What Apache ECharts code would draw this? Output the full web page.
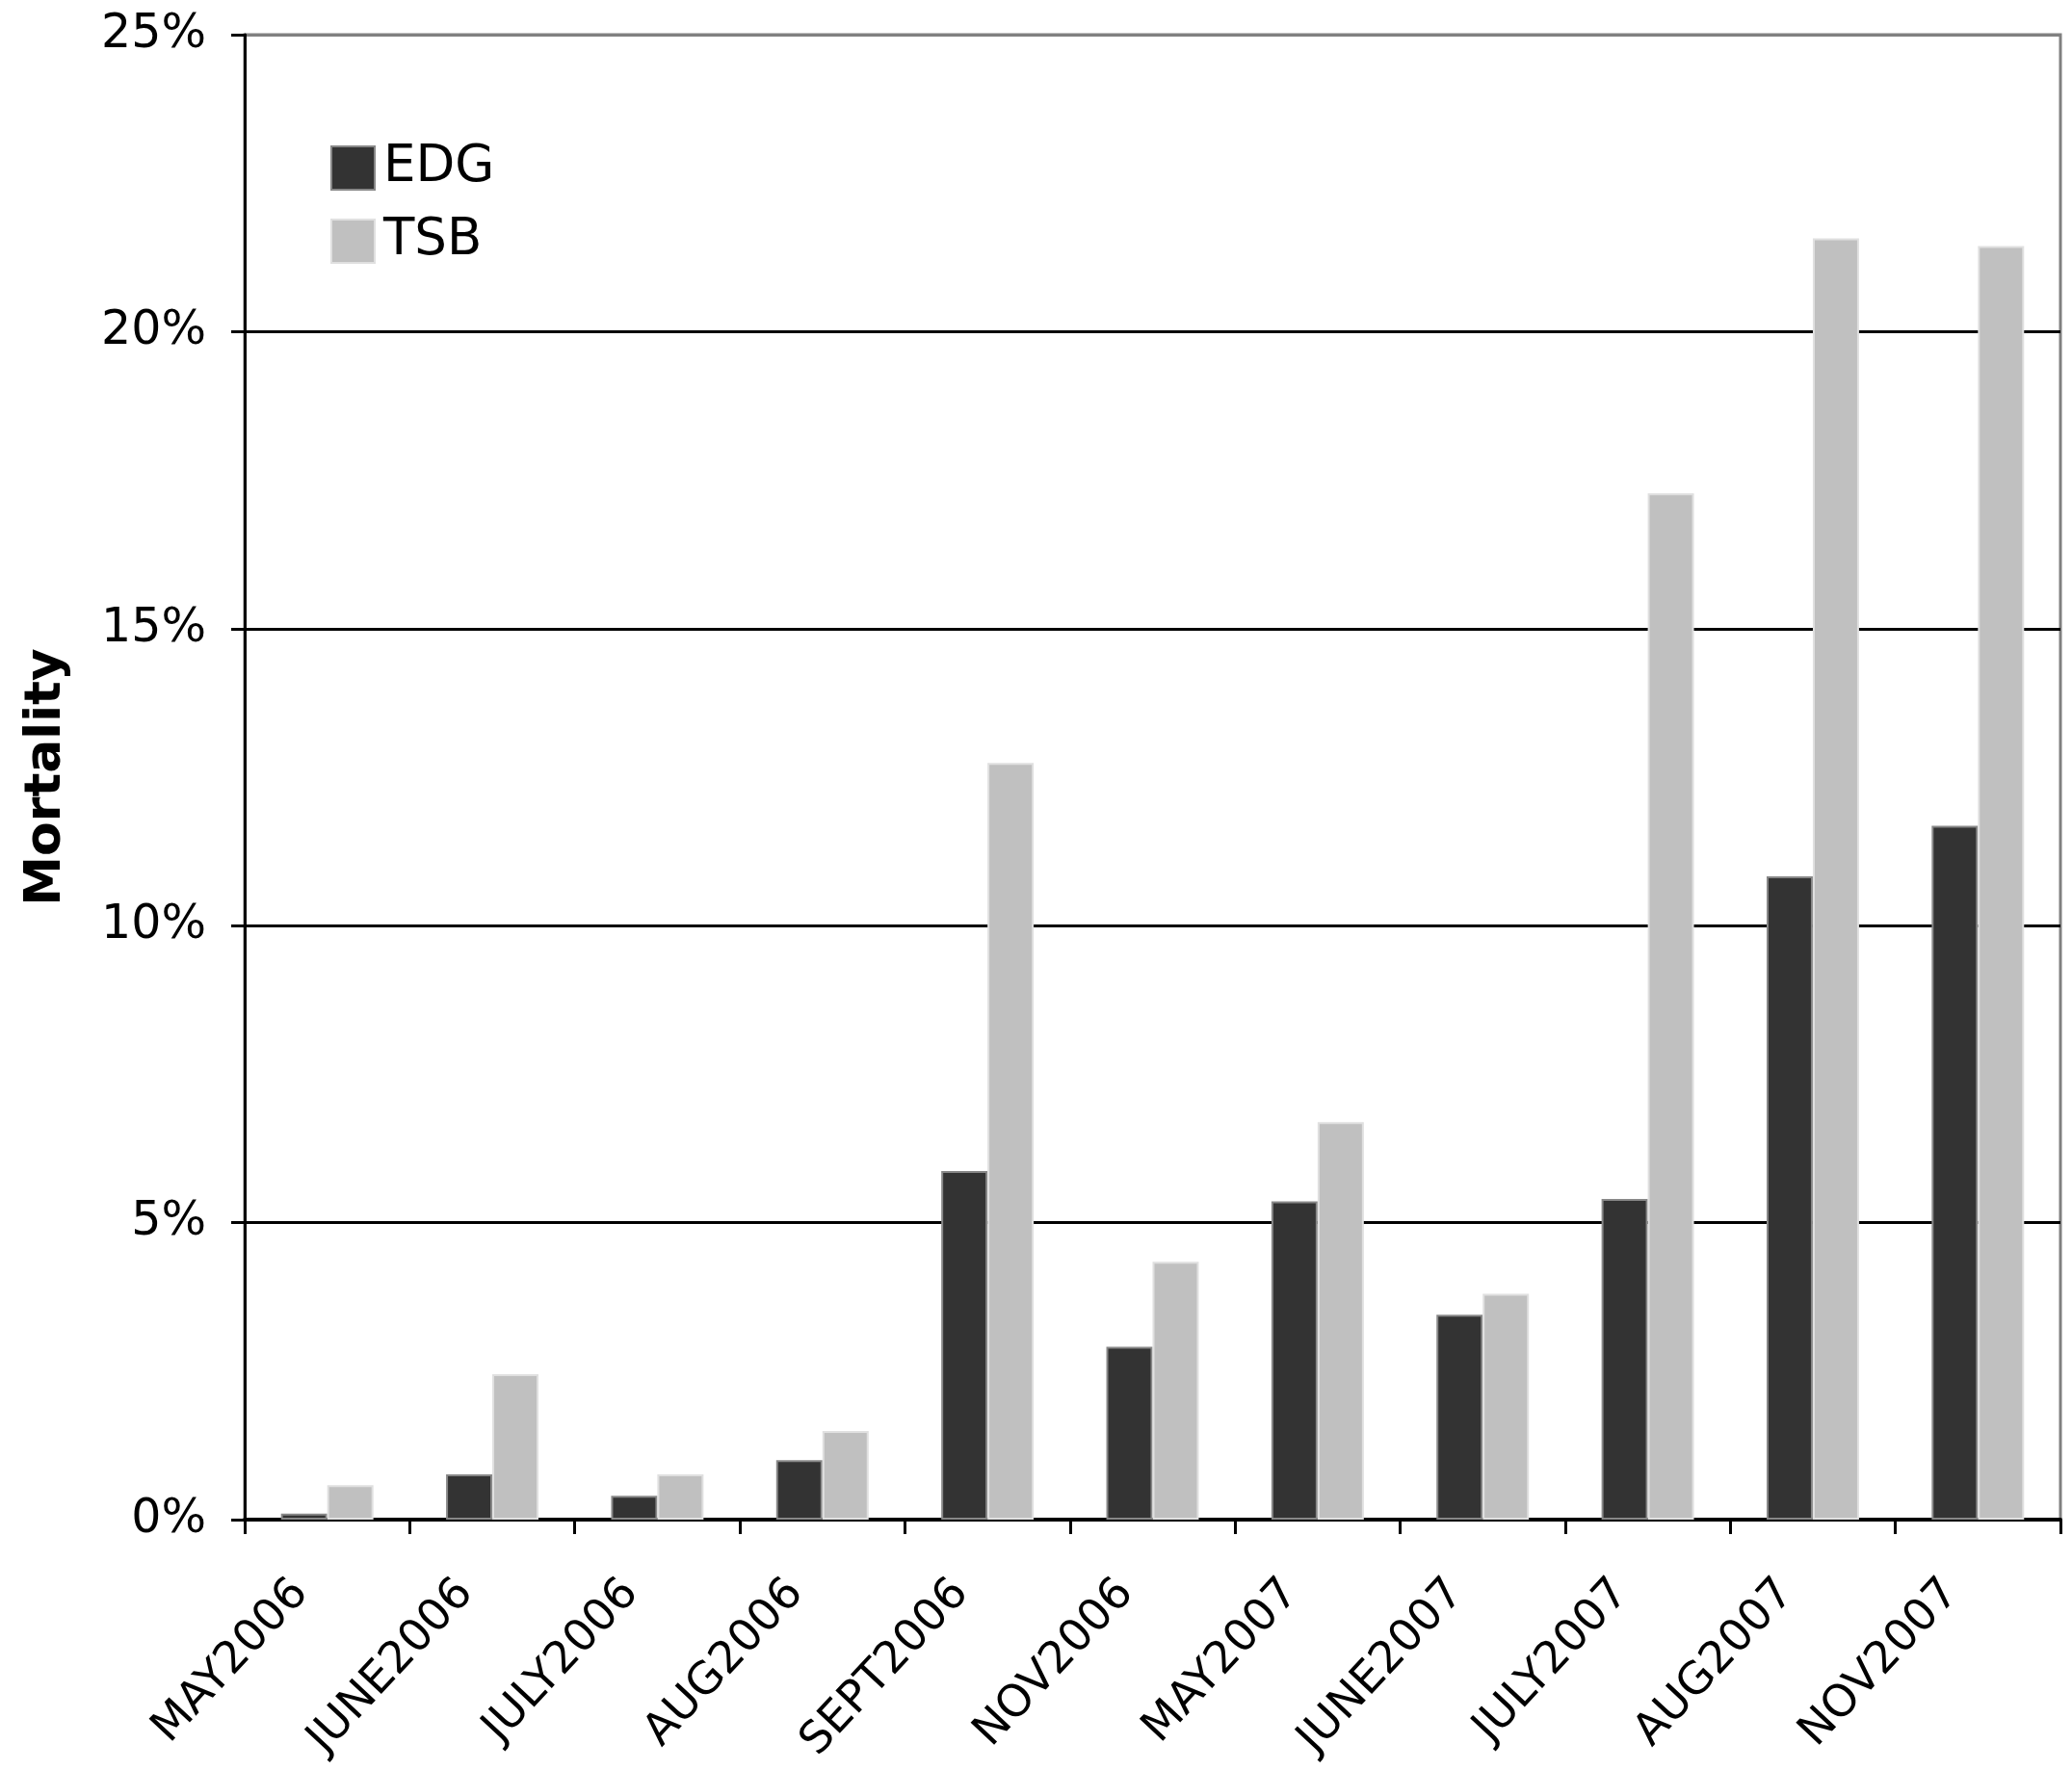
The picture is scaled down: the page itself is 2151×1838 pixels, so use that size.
<!DOCTYPE html>
<html>
<head>
<meta charset="utf-8">
<script src="https://cdn.jsdelivr.net/npm/echarts@6/dist/echarts.min.js"></script>
<style>
html,body{margin:0;padding:0;background:#fff;}
#chart{width:2151px;height:1838px;}
</style>
</head>
<body>
<div id="chart"></div>
<script>
const categories = ['MAY2006','JUNE2006','JULY2006','AUG2006','SEPT2006','NOV2006','MAY2007','JUNE2007','JULY2007','AUG2007','NOV2007'];
const edgValues = [0.1, 0.76, 0.4, 1.0, 5.87, 2.91, 5.36, 3.45, 5.40, 10.83, 11.68];
const tsbValues = [0.58, 2.45, 0.76, 1.49, 12.74, 4.34, 6.69, 3.80, 17.28, 21.57, 21.44];
const yTicks = [0, 5, 10, 15, 20, 25];

const font = 'DejaVu Sans';
const chart = echarts.init(document.getElementById('chart'), null, {renderer:'canvas'});
chart.setOption({
  animation: false,
  backgroundColor: '#ffffff',
  grid: {left: 254, right: 12, top: 36, bottom: 260, show: true, borderColor: '#808080', borderWidth: 3, backgroundColor: 'transparent'},
  legend: {
    orient: 'vertical', left: 338, top: 143, itemWidth: 45, itemHeight: 45, itemGap: 23,
    icon: 'rect',
    textStyle: {fontFamily: font, fontSize: 53, color: '#000', padding: [0,0,0,4]},
    data: ['EDG','TSB']
  },
  xAxis: {
    type: 'category', data: categories,
    axisLine: {lineStyle: {color: '#000', width: 4}},
    axisTick: {show: true, length: 15, lineStyle: {color: '#000', width: 3}},
    axisLabel: {rotate: 47, margin: 40, padding: [0, 40, 0, 0], fontFamily: font, fontSize: 46, color: '#000', interval: 0}
  },
  yAxis: {
    type: 'value', min: 0, max: 25, interval: 5,
    name: 'Mortality', nameLocation: 'middle', nameRotate: 90, nameGap: 180,
    nameTextStyle: {fontFamily: font, fontSize: 52, fontWeight: 'bold', color: '#000'},
    axisLine: {show: true, lineStyle: {color: '#000', width: 3}},
    axisTick: {show: true, length: 14, lineStyle: {color: '#000', width: 3}},
    axisLabel: {margin: 40, fontFamily: font, fontSize: 49, color: '#000',
      formatter: v => yTicks.indexOf(v) >= 0 ? v + '%' : ''},
    splitLine: {show: true, lineStyle: {color: ['#000','#000','#000','#000','#000','#808080'], width: 3}}
  },
  series: [
    {name: 'EDG', type: 'bar', data: edgValues, barGap: '0%', barCategoryGap: '44%',
     itemStyle: {color: '#333333', borderColor: '#888888', borderWidth: 2}},
    {name: 'TSB', type: 'bar', data: tsbValues, barGap: '0%', barCategoryGap: '44%',
     itemStyle: {color: '#c0c0c0', borderColor: '#e0e0e0', borderWidth: 2}}
  ]
});
</script>
</body>
</html>
